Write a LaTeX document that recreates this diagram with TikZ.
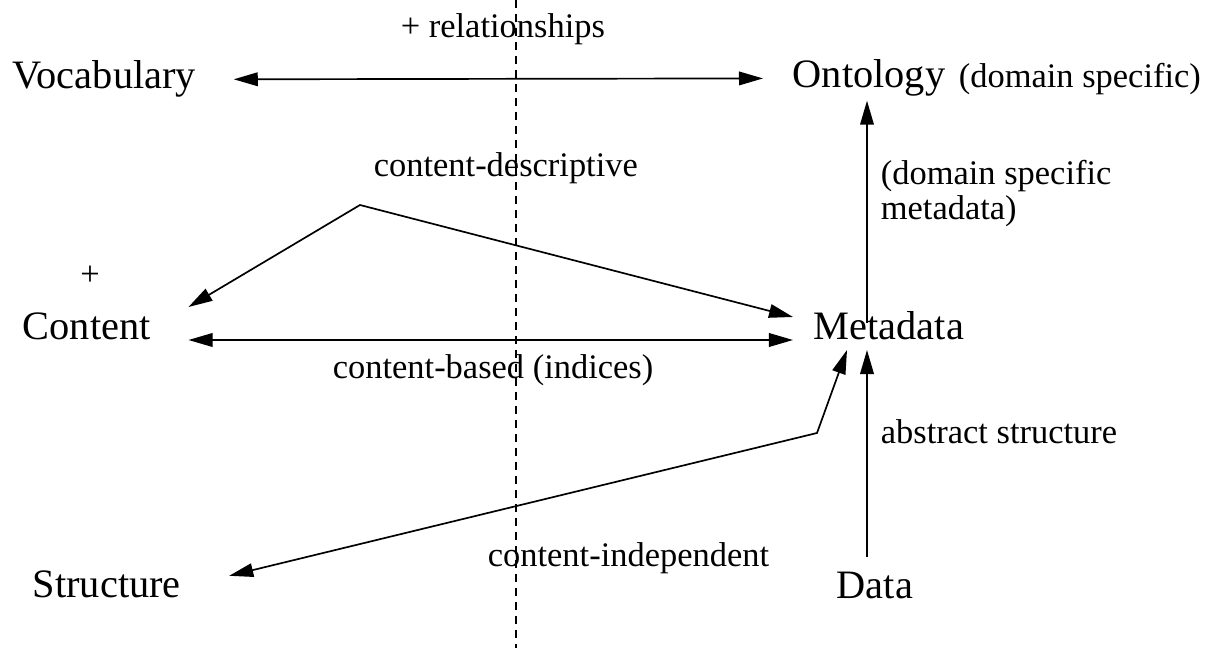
\documentclass[tikz,border=0pt]{standalone}
\usepackage{fontspec}
\setmainfont{Liberation Serif}
\usepackage{tikz}
\usetikzlibrary{arrows.meta,calc}

\begin{document}
\begin{tikzpicture}[%
    >={Triangle[length=0.6cm,width=0.34cm]}, % filled heads as in the scan
    x=0.025cm, y=-0.025cm,                   % one unit is one pixel, top down
    line width=1.2pt]
% -------------------------------------------------
% Text and connector styles
\tikzset{
  main/.style={font=\fontsize{28.7}{34}\selectfont, inner sep=0pt,
    text height=20pt, text depth=6.3pt},
  small/.style={font=\fontsize{24.5}{25}\selectfont, inner sep=0pt},
  conn/.style={draw, black},
  divider/.style={draw, line width=0.8pt, dash pattern=on 0.2cm off 0.15cm}
}
\useasboundingbox (0,0) rectangle (1209,648);
% -------------------------------------------------
% The main terms
\node [main, anchor=base west] (voc)    at (12,89)   {Vocabulary};
\node [main, anchor=base west] (ont)    at (792,88)  {Ontology};
\node [main, anchor=base west] (cont)   at (22,340)  {Content};
\node [main, anchor=base west] (meta)   at (813,340) {Metadata};
\node [main, anchor=base west] (struct) at (32,597)  {Structure};
\node [main, anchor=base west] (data)   at (836,598) {Data};

% annotations
\node [small, anchor=base west] (ontnote) at (958,88)  {(domain specific)};
\node [small, anchor=base]      (plus)    at (90,286)  {+};
\node [small, anchor=base west] (rel)     at (400,38)  {+ relationships};
\node [small, anchor=base west] (desc)    at (373,177) {content-descriptive};
\node [small, anchor=base west] (based)   at (332,378) {content-based (indices)};
\node [small, anchor=base west] (indep)   at (487,566) {content-independent};
\node [small, anchor=base west] (abs)     at (880,443) {abstract structure};
\node [small, anchor=north west, align=left] (dsm) at (880,159)
  {(domain specific\\metadata)};

% -------------------------------------------------
% Helper points for the bent connectors
\coordinate (peak) at (360,205);
\coordinate (bend) at (817,433);
\coordinate (ctip) at ($(cont.base east)+(37,-33)$);
\coordinate (mtip) at ($(meta.base west)+(-20,-23)$);
\coordinate (stip) at ($(meta.base west)+(34,10)$);
\coordinate (col)  at ($(meta.base west)+(54,10)$);
\coordinate (divtop) at (516,0);
\coordinate (divbot) at (516,648);

% -------------------------------------------------
% Straight connectors
\draw [conn, <->, shorten <=0.925cm, shorten >=0.725cm] (voc.east) -- (ont.west);
\draw [conn, <->, shorten <=0.925cm, shorten >=0.5cm] (cont.base east) -- (meta.base west);
\draw [conn, ->, shorten <=-0.3cm, shorten >=0.075cm] (col |- meta.north) -- (col |- ont.south);
\draw [conn, ->, shorten <=0.3cm] (data.north -| col) -- (col);

% the bent ones
\draw [conn, <->] (ctip) -- (peak) -- (mtip);
\draw [conn, <->, shorten <=1.225cm] (struct.east) -- (bend) -- (stip);

% -------------------------------------------------
% The dividing line
\draw [divider] (divtop) -- (divbot);
\end{tikzpicture}
\end{document}
